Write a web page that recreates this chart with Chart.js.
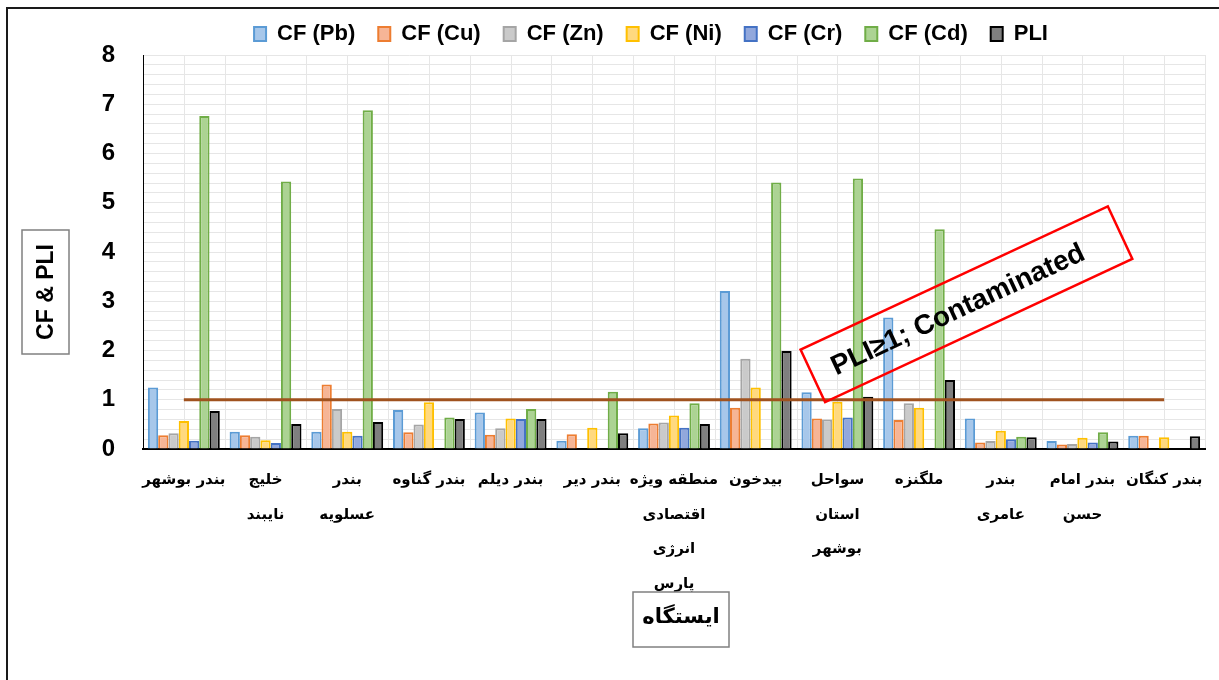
<!DOCTYPE html>
<html>
<head>
<meta charset="utf-8">
<script src="https://cdn.jsdelivr.net/npm/chart.js@4.4.0/dist/chart.umd.min.js"></script>
<style>
html,body{margin:0;padding:0;background:#fff;}
#wrap{width:1219px;height:680px;position:relative;overflow:hidden;}
</style>
</head>
<body>
<div id="wrap"><canvas id="c" width="1219" height="680"></canvas></div>
<script>
// ---- data ----
const categories = [
  "بندر بوشهر",
  ["خلیج", "نایبند"],
  ["بندر", "عسلویه"],
  "بندر گناوه",
  "بندر دیلم",
  "بندر دیر",
  ["منطقه ویژه", "اقتصادی", "انرژی", "پارس"],
  "بیدخون",
  ["سواحل", "استان", "بوشهر"],
  "ملگنزه",
  ["بندر", "عامری"],
  ["بندر امام", "حسن"],
  "بندر کنگان"
];
const seriesNames = ["CF (Pb)", "CF (Cu)", "CF (Zn)", "CF (Ni)", "CF (Cr)", "CF (Cd)", "PLI"];
const cfPb = [1.25, 0.35, 0.35, 0.79, 0.74, 0.17, 0.42, 3.21, 1.15, 2.67, 0.62, 0.16, 0.27];
const cfCu = [0.28, 0.28, 1.31, 0.34, 0.29, 0.30, 0.52, 0.84, 0.62, 0.59, 0.13, 0.09, 0.27];
const cfZn = [0.32, 0.25, 0.81, 0.50, 0.42, null, 0.54, 1.83, 0.60, 0.93, 0.16, 0.10, null];
const cfNi = [0.57, 0.18, 0.35, 0.95, 0.62, 0.43, 0.68, 1.25, 0.96, 0.84, 0.37, 0.23, 0.24];
const cfCr = [0.17, 0.12, 0.27, null, 0.61, null, 0.43, null, 0.64, null, 0.20, 0.13, null];
const cfCd = [6.76, 5.43, 6.88, 0.64, 0.81, 1.16, 0.93, 5.41, 5.49, 4.46, 0.25, 0.34, null];
const pli  = [0.77, 0.51, 0.55, 0.61, 0.61, 0.32, 0.51, 1.99, 1.06, 1.40, 0.24, 0.15, 0.26];
const yTickMin = 0, yTickMax = 8;
const threshold = 1;
const annotationText = "PLI≥1; Contaminated";
const yTitle = "CF & PLI";
const xTitle = "ایستگاه";

// ---- styles ----
const fills   = ['#a7c7ea', '#f6b596', '#cacaca', '#ffd97f', '#92a8dc', '#acd393', '#7f7f7f'];
const borders = ['#5b9bd5', '#ed7d31', '#a5a5a5', '#ffc000', '#4472c4', '#70ad47', '#000000'];
const allSeries = [cfPb, cfCu, cfZn, cfNi, cfCr, cfCd, pli];

const datasets = allSeries.map((d, i) => ({
  type: 'bar',
  label: seriesNames[i],
  data: d,
  backgroundColor: fills[i],
  borderColor: borders[i],
  borderWidth: 2,
  categoryPercentage: 0.88,
  barPercentage: 1.0,
  order: 1
}));

const decor = {
  id: 'decor',
  beforeDraw(chart) {
    const ctx = chart.ctx;
    ctx.save();
    ctx.fillStyle = '#fff';
    ctx.fillRect(0, 0, chart.width, chart.height);
    ctx.strokeStyle = '#1a1a1a';
    ctx.lineWidth = 2;
    ctx.strokeRect(7, 8, chart.width + 20, chart.height + 20);
    ctx.restore();
  },
  beforeDatasetsDraw(chart) {
    const ctx = chart.ctx, xs = chart.scales.x, a = chart.chartArea;
    const n = chart.data.labels.length;
    const half = (xs.getPixelForValue(1) - xs.getPixelForValue(0)) / 2;
    ctx.save();
    ctx.strokeStyle = '#e6e6e6';
    ctx.lineWidth = 1;
    for (let i = 0; i < n; i++) {
      const c = xs.getPixelForValue(i);
      const pts = [c, c + half];
      if (i > 0) pts.push(c - half);
      pts.forEach(px => {
        const xx = Math.round(px) + 0.5;
        ctx.beginPath(); ctx.moveTo(xx, a.top); ctx.lineTo(xx, a.bottom - 1); ctx.stroke();
      });
    }
    ctx.restore();
  },
  afterDatasetsDraw(chart) {
    const ctx = chart.ctx, xs = chart.scales.x, ys = chart.scales.y;
    const n = chart.data.labels.length;
    const yy = ys.getPixelForValue(threshold);
    ctx.save();
    ctx.strokeStyle = '#a0521e';
    ctx.lineWidth = 3;
    ctx.beginPath();
    ctx.moveTo(xs.getPixelForValue(0), yy);
    ctx.lineTo(xs.getPixelForValue(n - 1), yy);
    ctx.stroke();
    ctx.restore();
  },
  afterDraw(chart) {
    const ctx = chart.ctx, xs = chart.scales.x, ys = chart.scales.y;
    const cat = xs.getPixelForValue(1) - xs.getPixelForValue(0);
    ctx.save();
    // y title
    ctx.translate(45.5, 292);
    ctx.rotate(-Math.PI / 2);
    ctx.strokeStyle = '#808080'; ctx.lineWidth = 1.5;
    ctx.fillStyle = '#fff';
    ctx.fillRect(-62, -23.5, 124, 47);
    ctx.strokeRect(-62, -23.5, 124, 47);
    ctx.fillStyle = '#000';
    ctx.font = 'bold 23px "Liberation Sans"';
    ctx.textAlign = 'center'; ctx.textBaseline = 'middle';
    ctx.fillText(yTitle, 0, 1);
    ctx.restore();

    // x title
    ctx.save();
    const xc = 681, yc = 619.5;
    ctx.strokeStyle = '#808080'; ctx.lineWidth = 1.5;
    ctx.fillStyle = '#fff';
    ctx.fillRect(xc - 48, yc - 27.5, 96, 55);
    ctx.strokeRect(xc - 48, yc - 27.5, 96, 55);
    ctx.fillStyle = '#000';
    ctx.font = 'bold 21px "DejaVu Sans"';
    ctx.textAlign = 'center'; ctx.textBaseline = 'middle';
    ctx.fillText(xTitle, xc, yc - 2);
    ctx.restore();

    // annotation box
    ctx.save();
    const cx = xs.getPixelForValue(9) + 0.58 * cat;
    const cy = ys.getPixelForValue(2.94);
    ctx.translate(cx, cy);
    ctx.rotate(-25 * Math.PI / 180);
    ctx.strokeStyle = '#ff0000'; ctx.lineWidth = 2.5;
    ctx.strokeRect(-169.5, -29, 339, 58);
    ctx.fillStyle = '#000';
    let fs = 26;
    ctx.font = 'bold ' + fs + 'px "Liberation Sans"';
    const w = ctx.measureText(annotationText).width;
    fs = fs * 276 / w;
    ctx.font = 'bold ' + fs.toFixed(1) + 'px "Liberation Sans"';
    ctx.textAlign = 'center'; ctx.textBaseline = 'middle';
    ctx.fillText(annotationText, -10, 2);
    ctx.restore();
  }
};

new Chart(document.getElementById('c'), {
  data: { labels: categories, datasets },
  plugins: [decor],
  options: {
    responsive: false,
    animation: false,
    layout: { padding: { top: 0, left: 97, right: 14, bottom: 0 } },
    plugins: {
      legend: {
        position: 'top',
        labels: {
          color: '#000',
          font: { family: 'Liberation Sans', weight: 'bold', size: 22 },
          boxWidth: 12, boxHeight: 14, padding: 23
        }
      },
      tooltip: { enabled: false }
    },
    scales: {
      x: {
        grid: { display: false, drawTicks: false },
        border: { color: '#000', width: 2 },
        ticks: {
          color: '#000',
          font: { family: 'DejaVu Sans', weight: 'bold', size: 15, lineHeight: 2.3 },
          maxRotation: 0, minRotation: 0, autoSkip: false, padding: 14
        },
        afterFit(s) { s.height = 231; }
      },
      y: {
        min: yTickMin, max: yTickMax,
        grid: { color: '#e6e6e6', lineWidth: 1, drawTicks: false },
        border: { color: '#000', width: 1 },
        ticks: {
          stepSize: 0.2, autoSkip: false, color: '#000', padding: 28,
          font: { family: 'Liberation Sans', weight: 'bold', size: 24 },
          callback: v => Math.abs(v - Math.round(v)) < 1e-6 ? String(Math.round(v)) : ''
        },
        afterFit(s) { s.width = 46; }
      }
    }
  }
});
</script>
</body>
</html>
